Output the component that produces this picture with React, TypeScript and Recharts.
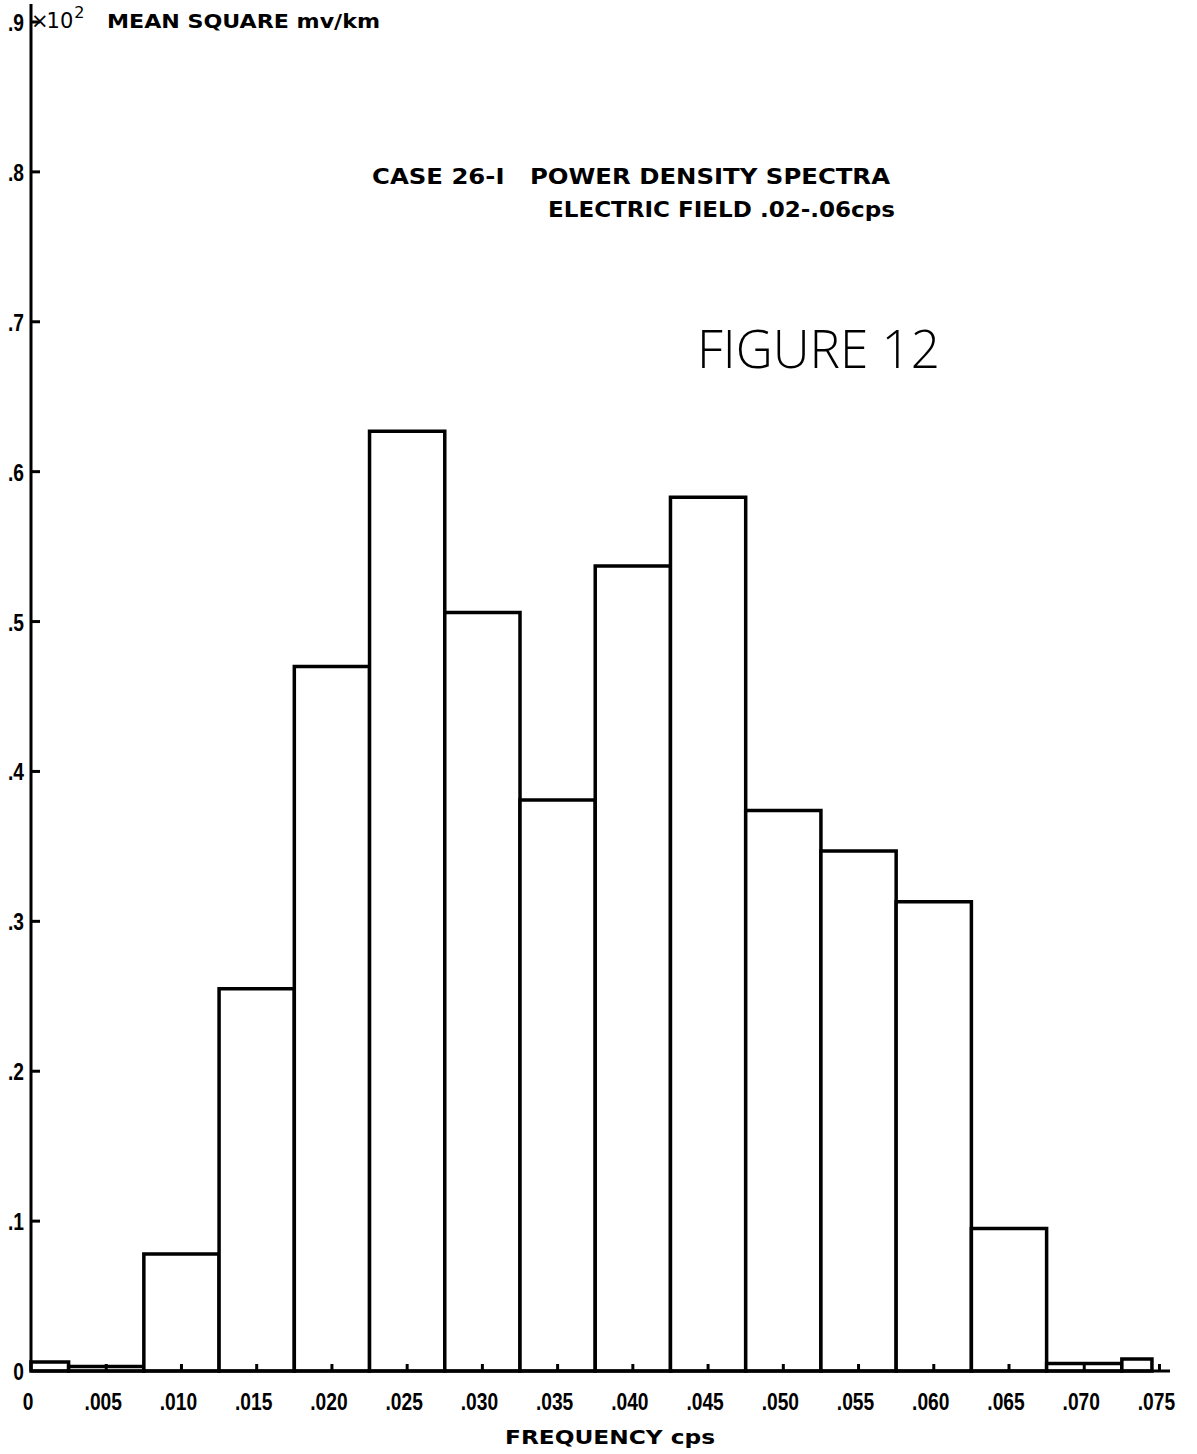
import React from 'react';
import { ComposedChart, XAxis, YAxis, ReferenceArea, Line } from 'recharts';

// histogram bins (cps) and mean square power (x10^2 (mv/km)^2)
const binStart = [0, 0.0025, 0.0075, 0.0125, 0.0175, 0.0225, 0.0275, 0.0325, 0.0375, 0.0425, 0.0475, 0.0525, 0.0575, 0.0625, 0.0675, 0.0725];
const binEnd = [0.0025, 0.0075, 0.0125, 0.0175, 0.0225, 0.0275, 0.0325, 0.0375, 0.0425, 0.0475, 0.0525, 0.0575, 0.0625, 0.0675, 0.0725, 0.0745];
const meanSquare = [0.006, 0.003, 0.078, 0.255, 0.47, 0.627, 0.506, 0.381, 0.537, 0.583, 0.374, 0.347, 0.313, 0.095, 0.005, 0.008];

const xTicks = [0, 0.005, 0.01, 0.015, 0.02, 0.025, 0.03, 0.035, 0.04, 0.045, 0.05, 0.055, 0.06, 0.065, 0.07, 0.075];
const xTickLabels = ['0', '.005', '.010', '.015', '.020', '.025', '.030', '.035', '.040', '.045', '.050', '.055', '.060', '.065', '.070', '.075'];
const yTicks = [0, 0.1, 0.2, 0.3, 0.4, 0.5, 0.6, 0.7, 0.8, 0.9];
const yTickLabels = ['0', '.1', '.2', '.3', '.4', '.5', '.6', '.7', '.8', '.9'];

const W = 1197;
const H = 1454;
const tickFont = "'Liberation Sans', Arial, sans-serif";
const letterFont = "'DejaVu Sans', 'Liberation Sans', sans-serif";

const lookup = (ticks: number[], labels: string[], v: number) => {
  const i = ticks.findIndex(t => Math.abs(t - v) < 1e-9);
  return i >= 0 ? labels[i] : '';
};

// narrow the bold digits like the lettering guide used on the plot
const narrowWidth = (s: string) => {
  let w = 0;
  for (const c of s) w += c === '.' ? 0.278 : 0.556;
  return w * 24 * 0.8;
};

const XTick = (props: any) => {
  const { x, y, payload } = props;
  const label = lookup(xTicks, xTickLabels, payload.value);
  return (
    <g>
      {payload.value > 0 && (
        <line x1={x} x2={x} y1={y} y2={y - 7} stroke="#000" strokeWidth={3} />
      )}
      <text x={x - 3} y={y + 39} textAnchor="middle" fontFamily={tickFont} fontWeight="bold" fontSize={24}
        textLength={narrowWidth(label)} lengthAdjust="spacingAndGlyphs" fill="#000">
        {label}
      </text>
    </g>
  );
};

const YTick = (props: any) => {
  const { x, y, payload } = props;
  const label = lookup(yTicks, yTickLabels, payload.value);
  return (
    <g>
      {payload.value > 0 && (
        <line x1={x} x2={x + 9} y1={y} y2={y} stroke="#000" strokeWidth={3} />
      )}
      <text x={x - 7} y={y + 9} textAnchor="end" fontFamily={tickFont} fontWeight="bold" fontSize={24}
        textLength={narrowWidth(label)} lengthAdjust="spacingAndGlyphs" fill="#000">
        {label}
      </text>
    </g>
  );
};

export default function App() {
  const bins = binStart.map((s, i) => ({ start: s, end: binEnd[i], value: meanSquare[i] }));

  return (
    <div style={{ position: 'absolute', left: 0, top: 0, width: W, height: H, background: '#fff' }}>
      <ComposedChart width={W} height={H} data={bins} margin={{ top: 4, right: 27, bottom: 0, left: 0 }}>
        <XAxis
          dataKey="start"
          type="number"
          domain={[0, 0.0757]}
          ticks={xTicks}
          interval={0}
          height={83}
          tickSize={0}
          tickMargin={0}
          tick={<XTick />}
          axisLine={{ stroke: '#000', strokeWidth: 3 }}
          allowDataOverflow
        />
        <YAxis
          type="number"
          domain={[0, 0.912]}
          ticks={yTicks}
          interval={0}
          width={31}
          tickSize={0}
          tickMargin={0}
          tick={<YTick />}
          axisLine={{ stroke: '#000', strokeWidth: 3 }}
          allowDataOverflow
        />
        {bins.map((b, i) => (
          <ReferenceArea
            key={i}
            x1={b.start}
            x2={b.end}
            y1={0}
            y2={b.value}
            fill="#fff"
            fillOpacity={1}
            stroke="#000"
            strokeWidth={3.5}
            ifOverflow="visible"
          />
        ))}
        <Line dataKey="value" stroke="none" dot={false} activeDot={false} isAnimationActive={false} />
      </ComposedChart>

      <svg width={W} height={H} style={{ position: 'absolute', left: 0, top: 0, pointerEvents: 'none' }}>
        {/* y axis unit, continues the .9 tick label */}
        <text x={31} y={28} fontFamily={letterFont} fontSize={21} fill="#000">
          <tspan>×</tspan>
          <tspan dx={-2}>10</tspan>
          <tspan dx={1} dy={-10} fontSize={16}>2</tspan>
        </text>
        <text x={107} y={28} fontFamily={letterFont} fontWeight="bold" fontSize={20} textLength={273} lengthAdjust="spacingAndGlyphs" fill="#000">
          MEAN SQUARE mv/km
        </text>

        <text x={372} y={184} fontFamily={letterFont} fontWeight="bold" fontSize={21} textLength={518} lengthAdjust="spacingAndGlyphs" fill="#000" style={{ whiteSpace: 'pre' }}>
          CASE 26-I   POWER DENSITY SPECTRA
        </text>
        <text x={548} y={217} fontFamily={letterFont} fontWeight="bold" fontSize={21} textLength={347} lengthAdjust="spacingAndGlyphs" fill="#000">
          ELECTRIC FIELD .02-.06cps
        </text>

        <text x={697} y={368} fontFamily="'Open Sans', 'Liberation Sans', sans-serif" fontWeight={300} fontSize={53} textLength={243} lengthAdjust="spacingAndGlyphs" fill="#000">
          FIGURE 12
        </text>

        <text x={505} y={1444} fontFamily={letterFont} fontWeight="bold" fontSize={20} textLength={210} lengthAdjust="spacingAndGlyphs" fill="#000">
          FREQUENCY cps
        </text>
      </svg>
    </div>
  );
}
